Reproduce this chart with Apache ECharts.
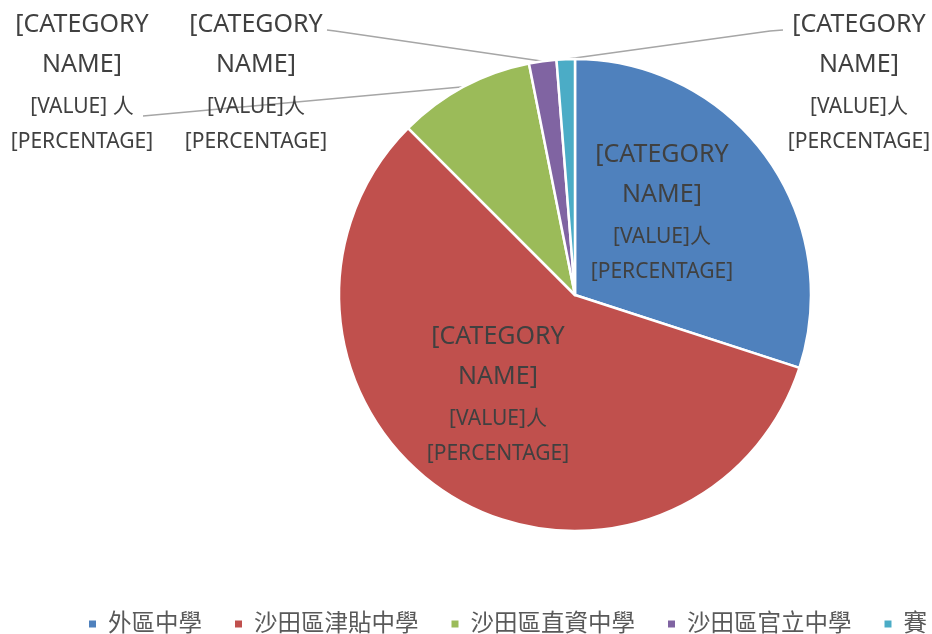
<!DOCTYPE html>
<html><head><meta charset="utf-8">
<script src="https://cdn.jsdelivr.net/npm/echarts@6/dist/echarts.min.js"></script>
<style>html,body{margin:0;padding:0;background:#fff}#c{width:932px;height:634px}</style>
</head><body><div id="c"></div>
<script>
const categories = ['外區中學', '沙田區津貼中學', '沙田區直資中學', '沙田區官立中學', '賽'];
const values = [48, 92, 15, 3, 2];
const colors = ['#4F81BD', '#C0504D', '#9BBB59', '#8064A2', '#4BACC6'];
const valueTexts = ['[VALUE]人', '[VALUE]人', '[VALUE] 人', '[VALUE]人', '[VALUE]人'];

const FONT = '"Noto Sans", "Noto Sans CJK TC", sans-serif';
const CX = 575, CY = 295, R = 236;
const labelPos = [[662, 210], [498, 392], [82, 80], [256, 80], [859, 80]];
const outside = [false, false, true, true, true];
// where the leader line meets the label, relative to label centre
const attach = [null, null, [[61, 36]], [[71, -50], [79, -49]], [[-76, -50], [-89, -49]]];

const total = values.reduce((a, b) => a + b, 0);
function anchorPoint(i) {
  let before = 0;
  for (let k = 0; k < i; k++) before += values[k];
  const mid = (before + values[i] / 2) / total * 2 * Math.PI;
  return [CX + R * Math.sin(mid), CY - R * Math.cos(mid)];
}

const chart = echarts.init(document.getElementById('c'), null, {renderer: 'canvas'});
const rich = {
  c: {fontSize: 25, lineHeight: 40, color: '#404040', fontFamily: FONT},
  v: {fontSize: 21, lineHeight: 44, color: '#404040', fontFamily: FONT},
  p: {fontSize: 21, lineHeight: 26, color: '#404040', fontFamily: FONT}
};
const data = categories.map((n, i) => ({
  name: n,
  value: values[i],
  itemStyle: {color: colors[i]},
  label: {
    show: true,
    position: outside[i] ? 'outside' : 'inside',
    formatter: '{c|[CATEGORY}\n{c|NAME]}\n{v|' + valueTexts[i] + '}\n{p|[PERCENTAGE]}',
    rich: rich,
    align: 'center'
  },
  labelLine: {show: outside[i], smooth: false, lineStyle: {color: '#A6A6A6', width: 1.5}, length: 10, length2: 10}
}));

chart.setOption({
  animation: false,
  legend: {
    data: categories,
    left: 89,
    top: 612,
    padding: 0,
    width: 1200,
    icon: 'rect',
    itemWidth: 7,
    itemHeight: 7,
    itemGap: 33,
    itemStyle: {borderWidth: 0},
    textStyle: {fontSize: 23.5, lineHeight: 24, color: '#595959', fontFamily: FONT, padding: [0, 0, 0, 7]}
  },
  series: [{
    type: 'pie',
    center: [CX, CY],
    radius: R,
    startAngle: 90,
    clockwise: true,
    avoidLabelOverlap: false,
    itemStyle: {borderColor: '#fff', borderWidth: 2.5},
    emphasis: {disabled: true},
    data: data,
    labelLayout: function (p) {
      const i = p.dataIndex;
      const pos = labelPos[i];
      const out = {x: pos[0], y: pos[1], align: 'center', verticalAlign: 'middle'};
      if (attach[i]) {
        const pts = [anchorPoint(i)];
        for (let k = attach[i].length - 1; k >= 0; k--) {
          pts.push([pos[0] + attach[i][k][0], pos[1] + attach[i][k][1]]);
        }
        out.labelLinePoints = pts;
      }
      return out;
    }
  }]
});
</script></body></html>
